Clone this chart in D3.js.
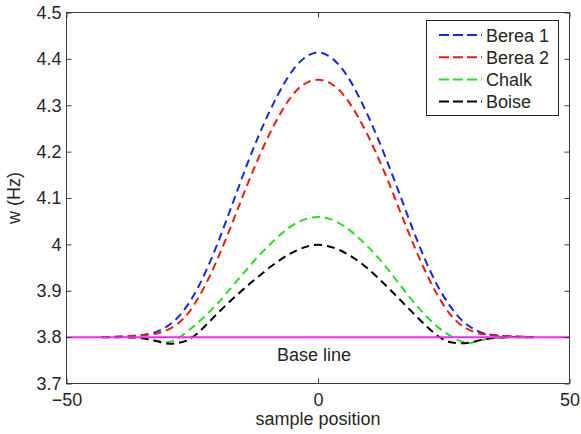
<!DOCTYPE html>
<html>
<head>
<meta charset="utf-8">
<script src="https://cdn.jsdelivr.net/npm/d3@7"></script>
<style>
  html, body { margin: 0; padding: 0; background: #fff; }
  svg { display: block; }
  text { font-family: "Liberation Sans", Arial, sans-serif; fill: #262626; }
</style>
</head>
<body>
<svg id="chart" width="581" height="434"></svg>
<script>
// Sample positions shared by all four profiles
const positions = [-43, -40, -38, -36, -34, -32, -30, -28, -26, -24, -22, -20, -18, -16, -14, -12, -10, -8, -6, -4, -2,
  0, 2, 4, 6, 8, 10, 12, 14, 16, 18, 20, 22, 24, 26, 28, 30, 32, 34, 36, 38, 40, 43];

// Frequency w (Hz) at each sample position
const berea1 = [3.800, 3.801, 3.802, 3.803, 3.806, 3.812, 3.823, 3.841, 3.868, 3.904, 3.949, 4.001, 4.058, 4.117, 4.175, 4.229, 4.278, 4.322, 4.360, 4.389, 4.407,
  4.414, 4.407, 4.389, 4.360, 4.321, 4.276, 4.226, 4.172, 4.115, 4.057, 4.001, 3.950, 3.906, 3.871, 3.843, 3.824, 3.812, 3.806, 3.803, 3.802, 3.801, 3.800];
const berea2 = [3.800, 3.801, 3.802, 3.803, 3.805, 3.808, 3.815, 3.828, 3.849, 3.881, 3.921, 3.968, 4.020, 4.075, 4.130, 4.182, 4.230, 4.272, 4.308, 4.335, 4.350,
  4.355, 4.350, 4.335, 4.309, 4.274, 4.233, 4.186, 4.135, 4.080, 4.026, 3.974, 3.927, 3.886, 3.853, 3.830, 3.816, 3.808, 3.805, 3.803, 3.802, 3.801, 3.800];
const chalk = [3.800, 3.800, 3.800, 3.799, 3.797, 3.792, 3.789, 3.796, 3.812, 3.830, 3.850, 3.872, 3.897, 3.923, 3.948, 3.973, 3.995, 4.016, 4.034, 4.048, 4.056,
  4.059, 4.056, 4.047, 4.033, 4.015, 3.994, 3.971, 3.945, 3.917, 3.889, 3.863, 3.840, 3.820, 3.805, 3.793, 3.787, 3.792, 3.797, 3.799, 3.800, 3.800, 3.800];
const boise = [3.800, 3.800, 3.800, 3.799, 3.796, 3.791, 3.786, 3.787, 3.793, 3.808, 3.829, 3.851, 3.872, 3.892, 3.911, 3.929, 3.947, 3.963, 3.977, 3.988, 3.996,
  3.999, 3.996, 3.989, 3.978, 3.964, 3.947, 3.927, 3.906, 3.884, 3.862, 3.840, 3.819, 3.801, 3.790, 3.787, 3.788, 3.793, 3.797, 3.799, 3.800, 3.800, 3.800];

const seriesNames = ["Berea 1", "Berea 2", "Chalk", "Boise"];
const seriesColors = ["#1428e0", "#e41e12", "#22e022", "#000000"];
const seriesValues = [berea1, berea2, chalk, boise];

const baseLevel = 3.8;
const baseLabel = "Base line";

const xTicks = [-50, 0, 50];
const yTicks = [3.7, 3.8, 3.9, 4.0, 4.1, 4.2, 4.3, 4.4, 4.5];
const xTitle = "sample position";
const yTitle = "w (Hz)";

// Layout of the axes box
const boxL = 66.5, boxR = 569.5, boxT = 12.5, boxB = 383.5;
const fontSize = 18;

const svg = d3.select("#chart");
const x = d3.scaleLinear().domain([-50, 50]).range([boxL, boxR]);
const y = d3.scaleLinear().domain([3.7, 4.5]).range([boxB, boxT]);

const fmtY = d => (d === 4 ? "4" : d3.format(".1f")(d));

// Clip curves to the axes box
svg.append("clipPath").attr("id", "plotClip")
  .append("rect").attr("x", boxL).attr("y", boxT).attr("width", boxR - boxL).attr("height", boxB - boxT);

// Dashed profiles
const line = d3.line()
  .x((d, i) => x(positions[i]))
  .y(d => y(d))
  .curve(d3.curveCatmullRom.alpha(0.5));

const curves = svg.append("g").attr("clip-path", "url(#plotClip)");
seriesValues.forEach((vals, k) => {
  curves.append("path")
    .datum(vals)
    .attr("d", line)
    .attr("fill", "none")
    .attr("stroke", seriesColors[k])
    .attr("stroke-width", 2)
    .attr("stroke-dasharray", "8,5");
});

// Base line
curves.append("line")
  .attr("x1", x(-50)).attr("x2", x(50))
  .attr("y1", y(baseLevel)).attr("y2", y(baseLevel))
  .attr("stroke", "#ff22ff").attr("stroke-width", 2);

svg.append("text")
  .attr("x", 277).attr("y", y(baseLevel) + 24)
  .attr("font-size", fontSize)
  .text(baseLabel);

// Axes: ticks point inwards and repeat on the top and right edges
const axisColor = "#3a3a3a";
const tickLen = 5;

const gx = svg.append("g").attr("transform", `translate(0,${boxB})`)
  .call(d3.axisBottom(x).tickValues(xTicks).tickSizeInner(-tickLen).tickSizeOuter(0).tickPadding(10));
const gxTop = svg.append("g").attr("transform", `translate(0,${boxT})`)
  .call(d3.axisTop(x).tickValues(xTicks).tickSizeInner(-tickLen).tickSizeOuter(0).tickFormat(""));
const gy = svg.append("g").attr("transform", `translate(${boxL},0)`)
  .call(d3.axisLeft(y).tickValues(yTicks).tickFormat(fmtY).tickSizeInner(-tickLen).tickSizeOuter(0).tickPadding(5));
const gyRight = svg.append("g").attr("transform", `translate(${boxR},0)`)
  .call(d3.axisRight(y).tickValues(yTicks).tickSizeInner(-tickLen).tickSizeOuter(0).tickFormat(""));

[gx, gxTop, gy, gyRight].forEach(g => {
  g.select(".domain").remove();
  g.selectAll(".tick line").attr("stroke", axisColor);
  g.selectAll("text")
    .attr("font-family", '"Liberation Sans", Arial, sans-serif')
    .attr("font-size", fontSize)
    .attr("fill", "#262626");
});

// Axes box
svg.append("rect")
  .attr("x", boxL).attr("y", boxT)
  .attr("width", boxR - boxL).attr("height", boxB - boxT)
  .attr("fill", "none").attr("stroke", axisColor).attr("stroke-width", 1);

// Axis titles
svg.append("text")
  .attr("x", (boxL + boxR) / 2).attr("y", 425)
  .attr("text-anchor", "middle").attr("font-size", fontSize)
  .text(xTitle);
svg.append("text")
  .attr("transform", `translate(20,${(boxT + boxB) / 2}) rotate(-90)`)
  .attr("text-anchor", "middle").attr("font-size", fontSize)
  .text(yTitle);

// Legend
const lg = svg.append("g");
lg.append("rect")
  .attr("x", 426.5).attr("y", 20.5).attr("width", 132).attr("height", 95)
  .attr("fill", "#fff").attr("stroke", "#222").attr("stroke-width", 1);
seriesNames.forEach((name, k) => {
  const cy = 35 + k * 22.2;
  lg.append("line")
    .attr("x1", 439).attr("x2", 482).attr("y1", cy).attr("y2", cy)
    .attr("stroke", seriesColors[k]).attr("stroke-width", 2)
    .attr("stroke-dasharray", "10,4");
  lg.append("text")
    .attr("x", 486).attr("y", cy + 6.5)
    .attr("font-size", fontSize)
    .text(name);
});
</script>
</body>
</html>
